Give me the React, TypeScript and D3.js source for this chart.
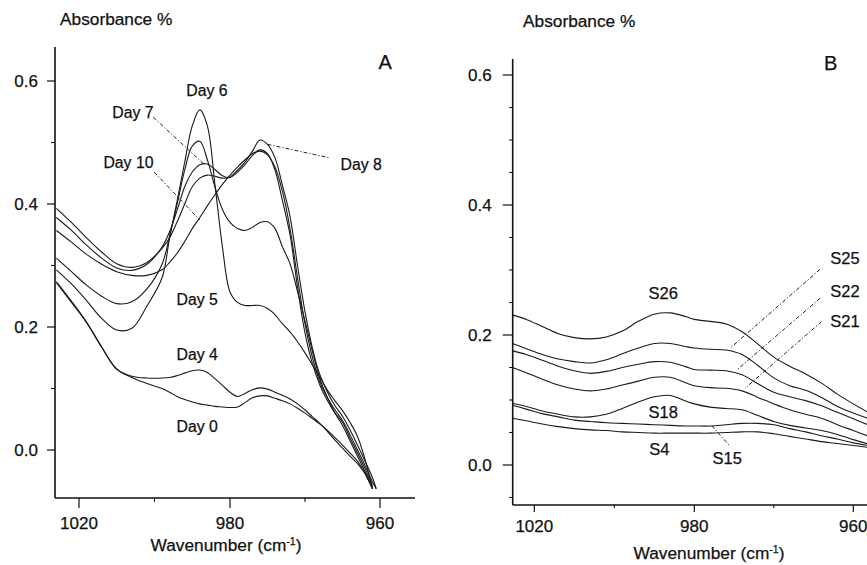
import React from "react";
import * as d3 from "d3";

const W = 867;
const H = 565;

// ---------- Panel A data (wavenumber, absorbance) ----------
const waveA = [1026, 1022, 1018, 1014, 1010, 1006, 1002, 998, 996, 994, 992, 990, 988, 986, 984, 982, 980, 979, 978, 977, 976, 975, 974, 973, 972, 971, 970, 969, 968, 967, 966, 965, 964, 963, 962, 961, 960.5];

const day0 = [0.272, 0.240, 0.207, 0.167, 0.131, 0.118, 0.108, 0.100, 0.094, 0.087, 0.082, 0.078, 0.075, 0.073, 0.071, 0.070, 0.069, 0.070, 0.077, 0.085, 0.088, 0.088, 0.084, 0.080, 0.075, 0.068, 0.060, 0.051, 0.042, 0.032, 0.020, 0.008, -0.005, -0.018, -0.038, -0.063, null];
const day4 = [0.274, 0.242, 0.208, 0.168, 0.132, 0.120, 0.117, 0.117, 0.118, 0.121, 0.125, 0.129, 0.130, 0.126, 0.116, 0.105, 0.094, 0.087, 0.092, 0.098, 0.101, 0.099, 0.094, 0.089, 0.083, 0.075, 0.065, 0.054, 0.043, 0.030, 0.016, 0.003, -0.010, -0.022, -0.038, -0.063, null];
const day5 = [0.312, 0.290, 0.268, 0.250, 0.238, 0.241, 0.262, 0.302, 0.348, 0.400, 0.455, 0.494, 0.502, 0.472, 0.428, 0.391, 0.370, 0.360, 0.357, 0.362, 0.370, 0.371, 0.360, 0.330, 0.303, 0.258, 0.210, 0.160, 0.115, 0.085, 0.060, 0.040, 0.015, -0.010, -0.035, -0.063, null];
const day6 = [0.293, 0.270, 0.243, 0.214, 0.195, 0.198, 0.234, 0.280, 0.345, 0.405, 0.468, 0.527, 0.553, 0.527, 0.432, 0.330, 0.257, 0.240, 0.235, 0.235, 0.235, 0.230, 0.220, 0.205, 0.192, 0.176, 0.158, 0.138, 0.118, 0.097, 0.080, 0.064, 0.045, 0.022, -0.015, -0.063, null];
const day7 = [0.378, 0.357, 0.333, 0.312, 0.296, 0.292, 0.302, 0.330, 0.355, 0.390, 0.428, 0.452, 0.464, 0.465, 0.456, 0.446, 0.443, 0.452, 0.464, 0.479, 0.488, 0.482, 0.455, 0.405, 0.350, 0.265, 0.190, 0.140, 0.105, 0.080, 0.060, 0.045, 0.020, -0.005, -0.030, -0.058, null];
const day8 = [0.393, 0.370, 0.345, 0.322, 0.303, 0.297, 0.305, 0.328, 0.345, 0.371, 0.400, 0.428, 0.442, 0.447, 0.445, 0.442, 0.444, 0.455, 0.468, 0.486, 0.504, 0.497, 0.475, 0.430, 0.380, 0.300, 0.225, 0.165, 0.122, 0.094, 0.072, 0.055, 0.033, 0.008, -0.018, -0.045, -0.063];
const day10 = [0.357, 0.338, 0.318, 0.302, 0.290, 0.284, 0.284, 0.293, 0.305, 0.320, 0.339, 0.360, 0.378, 0.397, 0.415, 0.432, 0.447, 0.460, 0.472, 0.482, 0.486, 0.480, 0.460, 0.420, 0.360, 0.280, 0.205, 0.150, 0.110, 0.085, 0.065, 0.048, 0.025, 0.000, -0.025, -0.052, -0.063];

const seriesA = [
  { name: "Day 0", values: day0 },
  { name: "Day 4", values: day4 },
  { name: "Day 5", values: day5 },
  { name: "Day 6", values: day6 },
  { name: "Day 7", values: day7 },
  { name: "Day 8", values: day8 },
  { name: "Day 10", values: day10 },
];

// ---------- Panel B data ----------
const waveB = [1025.5, 1022, 1018, 1014, 1010, 1006, 1002, 998, 994, 990, 986, 982, 980, 978, 976, 974, 972, 970, 968, 966, 964, 962, 960, 958];

const s26 = [0.231, 0.224, 0.213, 0.202, 0.196, 0.194, 0.197, 0.206, 0.221, 0.232, 0.234, 0.228, 0.224, 0.221, 0.217, 0.205, 0.186, 0.166, 0.152, 0.140, 0.126, 0.109, 0.094, 0.080];
const s25 = [0.187, 0.179, 0.170, 0.163, 0.159, 0.157, 0.162, 0.171, 0.180, 0.187, 0.187, 0.182, 0.180, 0.178, 0.177, 0.170, 0.153, 0.134, 0.122, 0.115, 0.104, 0.090, 0.080, 0.071];
const s22 = [0.176, 0.170, 0.161, 0.152, 0.145, 0.141, 0.144, 0.150, 0.155, 0.159, 0.158, 0.151, 0.147, 0.146, 0.145, 0.139, 0.125, 0.112, 0.105, 0.099, 0.091, 0.081, 0.071, 0.061];
const s21 = [0.150, 0.142, 0.132, 0.123, 0.117, 0.114, 0.117, 0.123, 0.129, 0.135, 0.135, 0.126, 0.122, 0.119, 0.118, 0.114, 0.104, 0.094, 0.085, 0.078, 0.072, 0.062, 0.053, 0.044];
const s18 = [0.095, 0.090, 0.083, 0.078, 0.074, 0.074, 0.078, 0.087, 0.097, 0.105, 0.107, 0.098, 0.094, 0.089, 0.087, 0.085, 0.076, 0.067, 0.061, 0.057, 0.053, 0.047, 0.039, 0.032];
const s15 = [0.092, 0.086, 0.079, 0.074, 0.069, 0.067, 0.065, 0.064, 0.063, 0.062, 0.061, 0.060, 0.060, 0.060, 0.062, 0.064, 0.064, 0.062, 0.056, 0.051, 0.045, 0.040, 0.034, 0.030];
const s4 = [0.072, 0.068, 0.063, 0.059, 0.056, 0.054, 0.053, 0.051, 0.050, 0.049, 0.049, 0.049, 0.049, 0.049, 0.050, 0.051, 0.051, 0.048, 0.044, 0.040, 0.036, 0.033, 0.030, 0.027];

const seriesB = [
  { name: "S26", values: s26 },
  { name: "S25", values: s25 },
  { name: "S22", values: s22 },
  { name: "S21", values: s21 },
  { name: "S18", values: s18 },
  { name: "S15", values: s15 },
  { name: "S4", values: s4 },
];

// ---------- Axis ticks ----------
const xMajorTicks = [1020, 980, 960];
const xMinorTicks = [1000, 970];
const yMajorTicks = [0, 0.2, 0.4, 0.6];
const yMinorTicksA = [0.1, 0.3, 0.5];
const yMinorTicksB = [-0.05, 0.05, 0.1, 0.15, 0.25, 0.3, 0.35, 0.45, 0.5, 0.55];

// ---------- Annotations (data units) ----------
const labelsA = [
  { text: "Day 6", w: 986.1, v: 0.576 },
  { text: "Day 7", w: 1005.7, v: 0.540 },
  { text: "Day 10", w: 1006.9, v: 0.4585 },
  { text: "Day 8", w: 962.5, v: 0.455 },
  { text: "Day 5", w: 988.7, v: 0.236 },
  { text: "Day 4", w: 988.7, v: 0.146 },
  { text: "Day 0", w: 988.7, v: 0.029 },
];
const leadersA = [
  { w1: 1000.3, v1: 0.541, w2: 987.1, v2: 0.466 },
  { w1: 1000.1, v1: 0.452, w2: 988.0, v2: 0.374 },
  { w1: 975.0, v1: 0.497, w2: 966.7, v2: 0.475 },
];
const labelsB = [
  { text: "S26", w: 987.75, v: 0.2554 },
  { text: "S25", w: 961.04, v: 0.309 },
  { text: "S22", w: 961.04, v: 0.259 },
  { text: "S21", w: 961.04, v: 0.212 },
  { text: "S18", w: 987.75, v: 0.073 },
  { text: "S4", w: 988.75, v: 0.0154 },
  { text: "S15", w: 975.85, v: 0.0015 },
];
const leadersB = [
  { w1: 964.19, v1: 0.301, w2: 975.51, v2: 0.1795 },
  { w1: 964.19, v1: 0.2565, w2: 974.67, v2: 0.146 },
  { w1: 964.0, v1: 0.2205, w2: 973.62, v2: 0.118 },
  { w1: 977.81, v1: 0.0605, w2: 975.51, v2: 0.029 },
];

const FONT = "'Liberation Sans', Arial, Helvetica, sans-serif";
const INK = "#111";
const TEXT_STROKE = { stroke: INK, strokeWidth: 0.25 };

type Label = { text: string; w: number; v: number };
type Leader = { w1: number; v1: number; w2: number; v2: number };

type PanelProps = {
  letter: string;
  letterPos: { w: number; v: number };
  wave: number[];
  series: { name: string; values: (number | null)[] }[];
  axisLeft: number;
  axisRight: number;
  axisTop: number;
  axisBottom: number;
  xRange: number[];
  yRange: number[];
  yMinor: number[];
  yMajorLen: number;
  yMinorLen: number;
  xMajorLen: number;
  xMinorLen: number;
  yLabelGap: number;
  xLabelDy: number;
  titleX: number;
  titleY: number;
  xTitleX: number;
  xTitleY: number;
  labelSize: number;
  labels: Label[];
  leaders: Leader[];
};

function Panel(p: PanelProps) {
  const x = d3.scaleLinear().domain(xMajorTicks).range(p.xRange);
  const y = d3.scaleLinear().domain([0, 0.6]).range(p.yRange);
  const line = d3
    .line<[number, number | null]>()
    .defined((d) => d[1] != null)
    .x((d) => x(d[0]))
    .y((d) => y(d[1] as number))
    .curve(d3.curveCatmullRom.alpha(0.5));

  return (
    <g>
      {/* curves */}
      {p.series.map((s) => (
        <path
          key={s.name}
          d={line(p.wave.map((w, i) => [w, s.values[i]] as [number, number | null])) || ""}
          fill="none"
          stroke="#1a1a1a"
          strokeWidth={1.1}
        />
      ))}
      {/* leaders */}
      {p.leaders.map((l, i) => (
        <line
          key={i}
          x1={x(l.w1)}
          y1={y(l.v1)}
          x2={x(l.w2)}
          y2={y(l.v2)}
          stroke="#222"
          strokeWidth={1}
          strokeDasharray="4,2,1.2,2"
        />
      ))}
      {/* axes */}
      <line x1={p.axisLeft} y1={p.axisTop} x2={p.axisLeft} y2={p.axisBottom} stroke={INK} strokeWidth={1.6} />
      <line x1={p.axisLeft} y1={p.axisBottom} x2={p.axisRight} y2={p.axisBottom} stroke={INK} strokeWidth={1.6} />
      {yMajorTicks.map((t) => (
        <g key={"ym" + t}>
          <line x1={p.axisLeft - p.yMajorLen} x2={p.axisLeft} y1={y(t)} y2={y(t)} stroke={INK} strokeWidth={1.2} />
          <text x={p.axisLeft - p.yLabelGap} y={y(t) + 6} textAnchor="end" fontSize={17} fontFamily={FONT} fill={INK} {...TEXT_STROKE}>
            {d3.format(".1f")(t)}
          </text>
        </g>
      ))}
      {p.yMinor.map((t) => (
        <line key={"yn" + t} x1={p.axisLeft - p.yMinorLen} x2={p.axisLeft} y1={y(t)} y2={y(t)} stroke={INK} strokeWidth={1.1} />
      ))}
      {xMajorTicks.map((t) => (
        <g key={"xm" + t}>
          <line x1={x(t)} x2={x(t)} y1={p.axisBottom} y2={p.axisBottom + p.xMajorLen} stroke={INK} strokeWidth={1.2} />
          <text x={x(t)} y={p.axisBottom + p.xLabelDy} textAnchor="middle" fontSize={17} fontFamily={FONT} fill={INK} {...TEXT_STROKE}>
            {String(t)}
          </text>
        </g>
      ))}
      {xMinorTicks.map((t) => (
        <line key={"xn" + t} x1={x(t)} x2={x(t)} y1={p.axisBottom} y2={p.axisBottom + p.xMinorLen} stroke={INK} strokeWidth={1.1} />
      ))}
      {/* titles */}
      <text x={p.titleX} y={p.titleY} fontSize={17.3} fontFamily={FONT} fill={INK} {...TEXT_STROKE}>
        Absorbance %
      </text>
      <text x={p.xTitleX} y={p.xTitleY} textAnchor="middle" fontSize={17.3} fontFamily={FONT} fill={INK} {...TEXT_STROKE}>
        Wavenumber (cm
        <tspan dy={-6.5} fontSize={10.5}>-1</tspan>
        <tspan dy={6.5}>)</tspan>
      </text>
      <text x={x(p.letterPos.w)} y={y(p.letterPos.v)} textAnchor="middle" fontSize={20} fontFamily={FONT} fill={INK} {...TEXT_STROKE}>
        {p.letter}
      </text>
      {/* series labels */}
      {p.labels.map((l) => (
        <text key={l.text} x={x(l.w)} y={y(l.v)} textAnchor="middle" fontSize={p.labelSize} fontFamily={FONT} fill={INK} {...TEXT_STROKE}>
          {l.text}
        </text>
      ))}
    </g>
  );
}

export default function App() {
  return (
    <svg
      width={W}
      height={H}
      viewBox={`0 0 ${W} ${H}`}
      style={{ position: "absolute", left: 0, top: 0, display: "block", background: "#fff" }}
    >
      <rect x={0} y={0} width={W} height={H} fill="#fff" />
      <Panel
        letter="A"
        letterPos={{ w: 959.3, v: 0.62 }}
        wave={waveA}
        series={seriesA}
        axisLeft={55}
        axisRight={415}
        axisTop={47}
        axisBottom={498}
        xRange={[79, 230, 380]}
        yRange={[450, 81]}
        yMinor={yMinorTicksA}
        yMajorLen={8}
        yMinorLen={4}
        xMajorLen={10}
        xMinorLen={4}
        yLabelGap={17}
        xLabelDy={31}
        titleX={60}
        titleY={25}
        xTitleX={226}
        xTitleY={551}
        labelSize={15.8}
        labels={labelsA}
        leaders={leadersA}
      />
      <Panel
        letter="B"
        letterPos={{ w: 962.84, v: 0.6077 }}
        wave={waveB}
        series={seriesB}
        axisLeft={512.7}
        axisRight={880}
        axisTop={59}
        axisBottom={505}
        xRange={[534.3, 694.3, 853.3]}
        yRange={[465, 75]}
        yMinor={yMinorTicksB}
        yMajorLen={10}
        yMinorLen={3.5}
        xMajorLen={7}
        xMinorLen={3}
        yLabelGap={21}
        xLabelDy={27}
        titleX={523}
        titleY={27}
        xTitleX={709}
        xTitleY={559}
        labelSize={16.5}
        labels={labelsB}
        leaders={leadersB}
      />
    </svg>
  );
}
